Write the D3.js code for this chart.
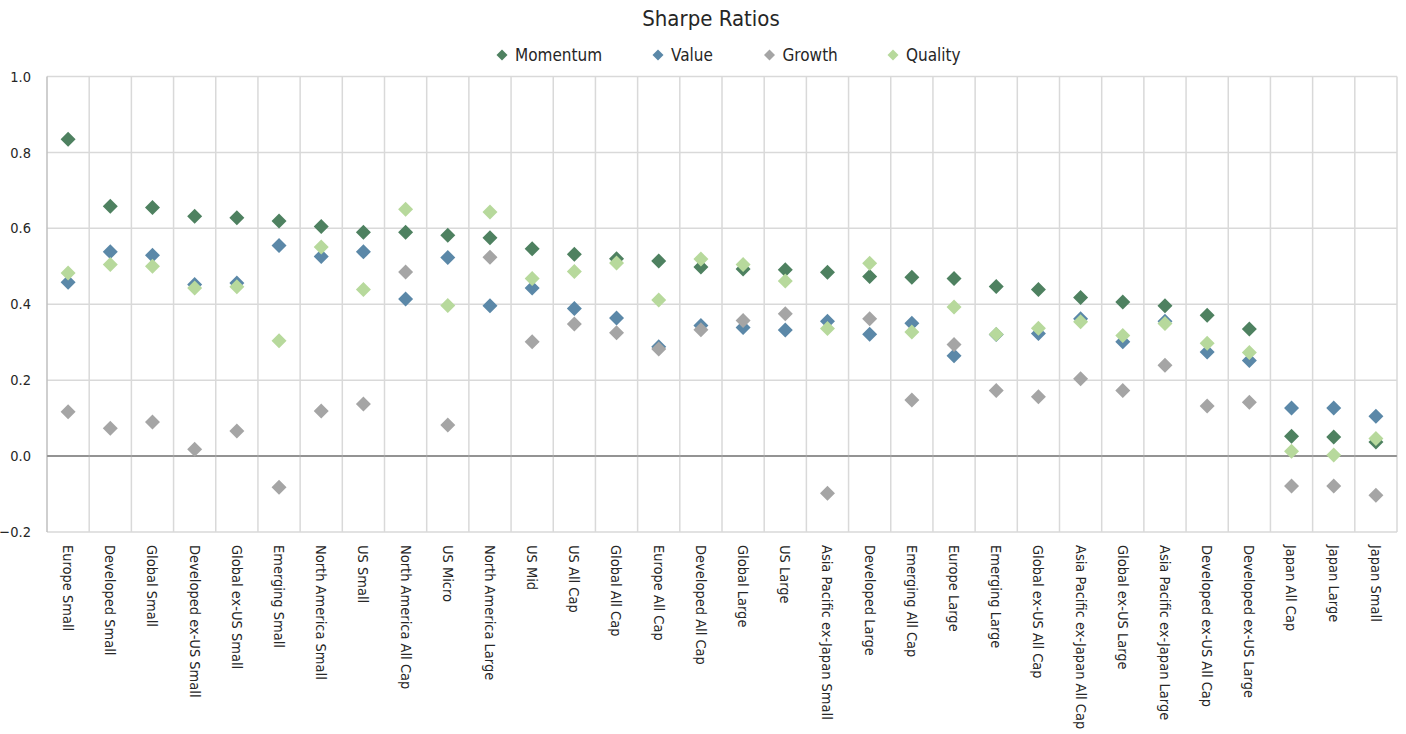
<!DOCTYPE html>
<html><head><meta charset="utf-8">
<script src="https://cdn.jsdelivr.net/npm/d3@7"></script>
<style>
body{margin:0;background:#fff;}
text{font-family:"DejaVu Sans Condensed","DejaVu Sans",sans-serif;font-stretch:condensed;fill:#262626;}
</style></head>
<body>
<svg id="c" width="1406" height="734"></svg>
<script>
const categories = ["Europe Small","Developed Small","Global Small","Developed ex-US Small","Global ex-US Small","Emerging Small","North America Small","US Small","North America All Cap","US Micro","North America Large","US Mid","US All Cap","Global All Cap","Europe All Cap","Developed All Cap","Global Large","US Large","Asia Pacific ex-Japan Small","Developed Large","Emerging All Cap","Europe Large","Emerging Large","Global ex-US All Cap","Asia Pacific ex-Japan All Cap","Global ex-US Large","Asia Pacific ex-Japan Large","Developed ex-US All Cap","Developed ex-US Large","Japan All Cap","Japan Large","Japan Small"];
const momentum = [0.835,0.658,0.655,0.632,0.628,0.619,0.605,0.590,0.590,0.582,0.575,0.546,0.532,0.520,0.514,0.498,0.493,0.491,0.484,0.473,0.471,0.468,0.447,0.439,0.418,0.406,0.396,0.371,0.335,0.052,0.050,0.037];
const value    = [0.458,0.538,0.529,0.452,0.456,0.555,0.526,0.538,0.414,0.523,0.396,0.443,0.389,0.364,0.288,0.344,0.339,0.332,0.355,0.321,0.350,0.264,0.320,0.323,0.362,0.301,0.355,0.274,0.252,0.127,0.127,0.105];
const growth   = [0.117,0.073,0.090,0.018,0.066,-0.082,0.119,0.137,0.485,0.082,0.524,0.301,0.348,0.325,0.282,0.333,0.357,0.375,-0.098,0.362,0.148,0.294,0.173,0.156,0.204,0.173,0.239,0.132,0.142,-0.079,-0.079,-0.103];
const quality  = [0.482,0.505,0.500,0.443,0.446,0.304,0.551,0.439,0.650,0.397,0.643,0.468,0.486,0.509,0.411,0.519,0.505,0.461,0.336,0.508,0.327,0.393,0.321,0.337,0.354,0.318,0.349,0.297,0.273,0.013,0.003,0.046];
const seriesNames = ["Momentum","Value","Growth","Quality"];
const seriesColors = ["#4E8160","#5B88A8","#A5A5A5","#B7D99C"];
const yTicks = [-0.2,0,0.2,0.4,0.6,0.8,1.0];

const seriesData = [momentum, value, growth, quality];
const svg = d3.select("#c");
const L = 47, R = 1397, T = 76.5, B = 532;

const x = d3.scaleBand().domain(categories).range([L, R]).padding(0);
const y = d3.scaleLinear().domain([-0.2, 1.0]).range([B, T]);

// horizontal gridlines
svg.append("g").selectAll("line").data(yTicks).join("line")
  .attr("x1", L).attr("x2", R)
  .attr("y1", d => y(d)).attr("y2", d => y(d))
  .attr("stroke", d => d === 0 ? "#8C8C8C" : "#D9D9D9")
  .attr("stroke-width", d => d === 0 ? 1.5 : 1.5);

// vertical gridlines
const vlines = categories.map(c => x(c)).concat([R]);
svg.append("g").selectAll("line").data(vlines).join("line")
  .attr("x1", d => d).attr("x2", d => d)
  .attr("y1", T).attr("y2", B)
  .attr("stroke", (d,i) => i === 0 ? "#BFBFBF" : "#D9D9D9")
  .attr("stroke-width", 1.5);

// redraw zero line on top
svg.append("line").attr("x1", L).attr("x2", R).attr("y1", y(0)).attr("y2", y(0))
  .attr("stroke", "#8C8C8C").attr("stroke-width", 1.5);

// y axis labels
const yAxis = d3.axisLeft(y).tickValues(yTicks).tickFormat(d3.format(".1f")).tickSize(0).tickPadding(0);
const ya = svg.append("g").attr("transform", `translate(${L - 16},0)`).call(yAxis);
ya.select(".domain").remove();
ya.selectAll("text").attr("font-size", 14.5).attr("fill", "#262626")
  .style("font-family", '"DejaVu Sans Condensed","DejaVu Sans",sans-serif').style("font-stretch","condensed");

// x labels
svg.append("g").selectAll("text").data(categories).join("text")
  .attr("transform", d => `translate(${x(d) + x.bandwidth()/2},${B + 13}) rotate(90)`)
  .attr("dy", "0.35em")
  .attr("font-size", 14.5)
  .attr("text-anchor", "start")
  .text(d => d);

// markers
const diamond = (s) => `M0,${-s}L${s},0L0,${s}L${-s},0Z`;
seriesData.forEach((vals, si) => {
  svg.append("g").selectAll("path").data(vals).join("path")
    .attr("d", diamond(7.5))
    .attr("transform", (d, i) => `translate(${x(categories[i]) + x.bandwidth()/2},${y(d)})`)
    .attr("fill", seriesColors[si]);
});

// title
svg.append("text").attr("x", 711).attr("y", 26).attr("text-anchor", "middle")
  .attr("font-size", 22).text("Sharpe Ratios");

// legend
const legendX = [502, 658, 769.5, 893];
const lg = svg.append("g");
seriesNames.forEach((n, i) => {
  lg.append("path").attr("d", diamond(5.5))
    .attr("transform", `translate(${legendX[i]},55)`).attr("fill", seriesColors[i]);
  lg.append("text").attr("x", legendX[i] + 13).attr("y", 55).attr("dy", "0.35em")
    .attr("font-size", 17).text(n);
});
</script>
</body></html>
